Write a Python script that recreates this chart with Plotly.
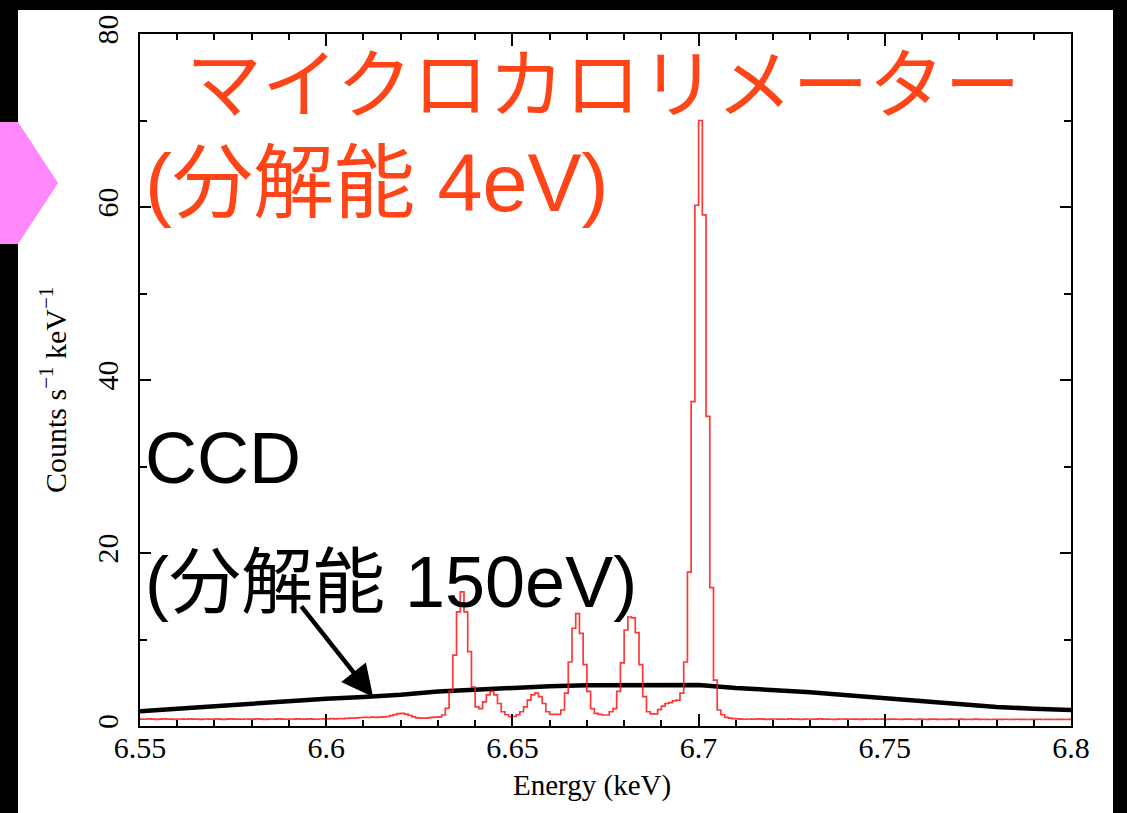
import numpy as np
import plotly.graph_objects as go

# ---------------- data ----------------
bin_start = 6.55          # keV, first bin lower edge
bin_width = 0.001         # keV
red_counts = [
    0.80, 0.78, 0.82, 0.80, 0.76, 0.80, 0.83, 0.79, 0.80, 0.77,
    0.81, 0.80, 0.78, 0.82, 0.79, 0.80, 0.76, 0.81, 0.80, 0.78,
    0.82, 0.80, 0.77, 0.80, 0.83, 0.79, 0.80, 0.78, 0.81, 0.80,
    0.79, 0.82, 0.80, 0.77, 0.80, 0.81, 0.79, 0.82, 0.80, 0.78,
    0.81, 0.80, 0.83, 0.79, 0.80, 0.82, 0.80, 0.78, 0.81, 0.83,
    0.82, 0.85, 0.83, 0.86, 0.85, 0.88, 0.90, 0.92, 0.95, 0.98,
    1.00, 0.98, 1.02, 1.00, 1.03, 1.05, 1.10, 1.20, 1.32, 1.42,
    1.45, 1.38, 1.22, 1.05, 0.95, 0.90, 0.92, 0.95, 1.00, 1.02,
    1.05, 1.27, 2.05, 4.0, 8.2, 13.2, 15.5, 13.2, 8.6, 4.5,
    2.2, 2.0, 2.8, 3.6, 4.0, 3.6, 2.6, 1.65, 1.3, 1.07,
    1.1, 1.3, 1.65, 2.2, 3.0, 3.6, 3.8, 3.4, 2.6, 1.65,
    1.35, 1.35, 1.35, 1.85, 3.8, 7.4, 11.3, 13.0, 10.7, 7.1,
    4.0, 2.0, 1.45, 1.35, 1.27, 1.27, 1.65, 2.0, 4.0, 7.3,
    11.1, 12.6, 12.5, 10.8, 7.1, 3.4, 1.65, 1.4, 1.4, 1.9,
    2.3, 2.6, 2.7, 2.9, 3.0, 3.8, 7.4, 17.8, 37.5, 60.2,
    70.0, 59.1, 35.8, 16.0, 5.3, 1.85, 1.3, 1.0, 0.9, 0.85,
    0.82, 0.80, 0.78, 0.81, 0.80, 0.79, 0.82, 0.80, 0.77, 0.80,
    0.81, 0.79, 0.80, 0.78, 0.82, 0.80, 0.79, 0.77, 0.80, 0.81,
    0.78, 0.80, 0.82, 0.79, 0.80, 0.78, 0.77, 0.80, 0.81, 0.79,
    0.78, 0.80, 0.79, 0.77, 0.80, 0.78, 0.81, 0.79, 0.78, 0.80,
    0.77, 0.79, 0.80, 0.78, 0.76, 0.79, 0.80, 0.78, 0.77, 0.79,
    0.78, 0.76, 0.79, 0.80, 0.77, 0.78, 0.76, 0.79, 0.78, 0.77,
    0.79, 0.76, 0.78, 0.77, 0.79, 0.76, 0.78, 0.77, 0.75, 0.78,
    0.77, 0.76, 0.78, 0.75, 0.77, 0.78, 0.76, 0.77, 0.75, 0.77,
    0.76, 0.78, 0.75, 0.77, 0.76, 0.75, 0.77, 0.76, 0.75, 0.77,
]
ccd_energy = [6.55, 6.56, 6.57, 6.58, 6.59, 6.60, 6.61, 6.62, 6.63, 6.64,
              6.65, 6.66, 6.67, 6.68, 6.69, 6.70, 6.71, 6.72, 6.73, 6.74,
              6.75, 6.76, 6.77, 6.78, 6.79, 6.80]
ccd_counts = [1.70, 2.00, 2.30, 2.60, 2.90, 3.15, 3.35, 3.60, 4.00, 4.20,
              4.45, 4.60, 4.70, 4.75, 4.75, 4.75, 4.40, 4.20, 3.90, 3.55,
              3.20, 2.85, 2.50, 2.20, 2.00, 1.85]
x_tick_vals = [6.55, 6.6, 6.65, 6.7, 6.75, 6.8]
x_tick_text = ["6.55", "6.6", "6.65", "6.7", "6.75", "6.8"]
y_tick_vals = [0, 20, 40, 60, 80]
y_tick_text = ["0", "20", "40", "60", "80"]

label_micro = "マイクロカロリメーター"
label_micro_res = "(分解能 4eV)"
label_ccd = "CCD"
label_ccd_res = "(分解能 150eV)"
x_title = "Energy (keV)"
y_title = "Counts s<sup>−1</sup> keV<sup>−1</sup>"

# ---------------- figure ----------------
W, H = 1127, 813
ML, MR, MT, MB = 140, 56, 34, 87
PW, PH = W - ML - MR, H - MT - MB


def px(xp):
    return (xp - ML) / PW


def py(yp):
    return (H - MB - yp) / PH


edges = bin_start + bin_width * np.arange(len(red_counts) + 1)
red_y = list(red_counts) + [red_counts[-1]]

fig = go.Figure()
fig.add_trace(go.Scatter(x=ccd_energy, y=ccd_counts, mode="lines",
                         line=dict(color="black", width=4.5),
                         hoverinfo="skip", showlegend=False))
fig.add_trace(go.Scatter(x=edges, y=red_y, mode="lines", line_shape="hv",
                         line=dict(color="rgba(255,20,20,0.85)", width=1.7),
                         hoverinfo="skip", showlegend=False))

serif = "Liberation Serif"
cjk = "Noto Sans CJK JP"
mixed = "Liberation Sans, Noto Sans CJK JP"
red_txt = "#FF4418"

fig.update_layout(
    width=W, height=H,
    margin=dict(l=ML, r=MR, t=MT, b=MB),
    paper_bgcolor="white", plot_bgcolor="white",
    showlegend=False,
    xaxis=dict(range=[6.55, 6.8], tickvals=x_tick_vals, ticktext=x_tick_text,
               ticks="inside", ticklen=12, tickwidth=1.5, tickcolor="black",
               showline=True, linecolor="black", linewidth=2, mirror="ticks",
               showgrid=False, zeroline=False, ticklabelstandoff=-6,
               tickfont=dict(family=serif, size=30, color="black"),
               minor=dict(tick0=6.55, dtick=0.01, ticks="inside", ticklen=6,
                          tickwidth=1.5, tickcolor="black", showgrid=False)),
    yaxis=dict(range=[0, 80], tickvals=y_tick_vals, ticktext=y_tick_text,
               ticks="inside", ticklen=11, tickwidth=1.5, tickcolor="black",
               showline=True, linecolor="black", linewidth=2, mirror="ticks",
               showgrid=False, zeroline=False, tickangle=-90,
               ticklabelstandoff=8,
               tickfont=dict(family=serif, size=30, color="black"),
               minor=dict(tick0=0, dtick=10, ticks="inside", ticklen=7,
                          tickwidth=1.5, tickcolor="black", showgrid=False)),
)

# frame (black strips) and pink marker
shapes = [
    dict(type="rect", xref="paper", yref="paper", x0=px(0), x1=px(W), y0=py(10), y1=py(0),
         fillcolor="black", line=dict(width=0)),
    dict(type="rect", xref="paper", yref="paper", x0=px(0), x1=px(18), y0=py(H), y1=py(0),
         fillcolor="black", line=dict(width=0)),
    dict(type="rect", xref="paper", yref="paper", x0=px(1113), x1=px(W), y0=py(H), y1=py(0),
         fillcolor="black", line=dict(width=0)),
]
pts = [(0, 122), (18, 122), (58, 183), (18, 244), (0, 244)]
path = "M " + " L ".join(f"{px(a):.5f},{py(b):.5f}" for a, b in pts) + " Z"
shapes.append(dict(type="path", xref="paper", yref="paper", path=path,
                   fillcolor="#FF88FC", line=dict(width=0)))
fig.update_layout(shapes=shapes)

ann = [
    dict(text=label_micro, x=px(184), y=py(79), xanchor="left", yanchor="middle",
         font=dict(family=cjk, size=76, color=red_txt)),
    dict(text=label_micro_res, x=px(143), y=py(183), xanchor="left", yanchor="middle",
         font=dict(family=mixed, size=81, color=red_txt)),
    dict(text=label_ccd, x=px(143), y=py(458), xanchor="left", yanchor="middle",
         font=dict(family=mixed, size=72, color="black")),
    dict(text=label_ccd_res, x=px(143), y=py(582), xanchor="left", yanchor="middle",
         font=dict(family=mixed, size=72, color="black")),
    dict(text=x_title, x=px(592), y=py(785), xanchor="center", yanchor="middle",
         font=dict(family=serif, size=29, color="black")),
    dict(text=y_title, x=px(53), y=py(390), xanchor="center", yanchor="middle",
         textangle=-90, font=dict(family=serif, size=30, color="black")),
]
for a in ann:
    a.update(xref="paper", yref="paper", showarrow=False)
ann.append(dict(x=6.6126, y=3.36, xref="x", yref="y", text="", showarrow=True,
                ax=-73, ay=-92, arrowhead=2, arrowsize=1.4, arrowwidth=4.5,
                arrowcolor="black"))
fig.update_layout(annotations=ann)

fig.write_html("out.html", config={"displayModeBar": False},
               post_script="document.body.style.margin='0px';document.body.style.padding='0px';")
